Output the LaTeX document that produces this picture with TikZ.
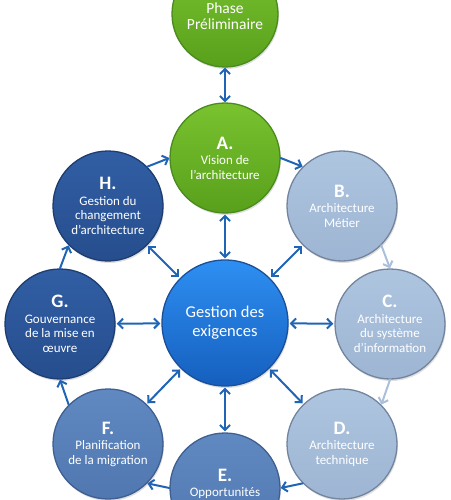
\documentclass[tikz,border=0pt]{standalone}
\usepackage{fontspec}
\setmainfont{Carlito}
\usetikzlibrary{arrows.meta,shadows}
\definecolor{greentop}{HTML}{79C22F}
\definecolor{greenbot}{HTML}{58A01B}
\definecolor{greenline}{HTML}{4A8A1E}
\definecolor{darktop}{HTML}{315EA4}
\definecolor{darkbot}{HTML}{264E8E}
\definecolor{darkline}{HTML}{1D3D70}
\definecolor{midtop}{HTML}{6189C1}
\definecolor{midbot}{HTML}{5077AF}
\definecolor{midline}{HTML}{3E5F90}
\definecolor{lighttop}{HTML}{AEC5E0}
\definecolor{lightbot}{HTML}{9EB5D3}
\definecolor{lightline}{HTML}{72849E}
\definecolor{ctrtop}{HTML}{2E8FF2}
\definecolor{ctrbot}{HTML}{155FBE}
\definecolor{ctrline}{HTML}{1A4F9A}
\definecolor{arrowblue}{HTML}{1F64B5}
\definecolor{arrowlight}{HTML}{A9BFDC}
\newcommand{\phl}[1]{{\fontsize{19}{20}\selectfont\bfseries #1}}
\begin{document}
\begin{tikzpicture}[x=1pt,y=-1pt,
  phasebox/.style={circle, minimum size=110pt, inner sep=0pt, line width=1.3pt,
    text=white, align=center, font=\fontsize{13}{14.5}\selectfont,
    drop shadow={opacity=0.25, shadow xshift=1pt, shadow yshift=-2pt}},
  greenphase/.style={phasebox, draw=greenline, top color=greentop, bottom color=greenbot},
  darkphase/.style={phasebox, draw=darkline, top color=darktop, bottom color=darkbot},
  midphase/.style={phasebox, draw=midline, top color=midtop, bottom color=midbot},
  lightphase/.style={phasebox, draw=lightline, top color=lighttop, bottom color=lightbot},
  ctrphase/.style={phasebox, minimum size=126pt, draw=ctrline, top color=ctrtop, bottom color=ctrbot,
    font=\fontsize{16.5}{19}\selectfont},
  link/.style={draw=arrowblue, line width=2pt, line cap=round,
    -{Straight Barb[length=5pt,width=10pt,line width=2pt]}},
  lightlink/.style={link, draw=arrowlight},
  both/.style={link, {Straight Barb[length=5pt,width=10pt,line width=2pt]}-{Straight Barb[length=5pt,width=10pt,line width=2pt]}}
]
\useasboundingbox (0,0) rectangle (450,500);

\node[greenphase, minimum size=106pt] (P) at (225,14) {};
\node[text=white, align=center, font=\fontsize{15.5}{16}\selectfont] (Ptxt) at (225,16) {Phase\\Préliminaire};
\node[greenphase] (A) at (225,158) {\phl{A.}\\[1pt]Vision de\\l’architecture};
\node[lightphase] (B) at (342,206) {\phl{B.}\\[1pt]Architecture\\Métier};
\node[lightphase] (C) at (390,324) {\phl{C.}\\[1pt]Architecture\\du système\\d’information};
\node[lightphase] (D) at (342,444) {\phl{D.}\\[1pt]Architecture\\technique};
\node[midphase] (E) at (225,488) {};
\node[text=white, align=center, font=\fontsize{13}{14.5}\selectfont] (Etxt) at (225,484) {\phl{E.}\\[1pt]Opportunités};
\node[midphase] (F) at (108,444) {\phl{F.}\\[1pt]Planification\\de la migration};
\node[darkphase] (G) at (60,324) {\phl{G.}\\[1pt]Gouvernance\\de la mise en\\œuvre};
\node[darkphase] (H) at (108,206) {\phl{H.}\\[1pt]Gestion du\\changement\\d’architecture};
\node[ctrphase] (O) at (225,323) {Gestion des\\exigences};

\draw[both] (P) -- (A);
\foreach \n in {A,B,C,D,E,F,G,H}{
  \draw[both, shorten <=1pt, shorten >=1pt] (O) -- (\n);
}
\draw[link] (H.45) -- (A.180);
\draw[link] (A.0) -- (B.135);
\draw[lightlink] (B.-45) -- (C.90);
\draw[lightlink] (C.-90) -- (D.45);
\draw[link] (D.-135) -- (E.0);
\draw[link] (E.180) -- (F.-45);
\draw[link] (F.135) -- (G.-90);
\draw[link] (G.90) -- (H.225);
\end{tikzpicture}
\end{document}
